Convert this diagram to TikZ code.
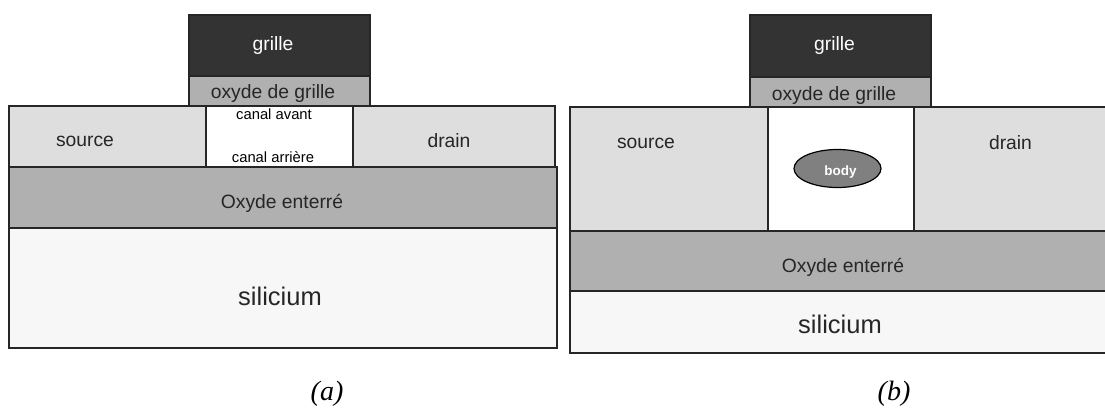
\documentclass[tikz,border=0pt]{standalone}
\usetikzlibrary{shapes.geometric}
\usepackage{fontspec}
\setmainfont{Liberation Sans}
\newfontfamily\captionfont{Liberation Serif}
\definecolor{grilleC}{gray}{0.2}
\definecolor{oxydeC}{gray}{0.69}
\definecolor{sourceC}{gray}{0.87}
\definecolor{siliciumC}{gray}{0.97}
\definecolor{bodyC}{gray}{0.5}
\definecolor{traitC}{gray}{0.15}
\tikzset{
  couche/.style={draw=traitC,line width=1.2pt,rectangle,inner sep=0pt},
  etiq/.style={inner sep=0pt,font=\fontsize{19.3}{22}\selectfont,text=black!85},
  etiqSi/.style={inner sep=0pt,font=\fontsize{25.5}{28}\selectfont,text=black!85},
  etiqCanal/.style={inner sep=0pt,font=\fontsize{14.8}{17}\selectfont},
  legende/.style={inner sep=0pt,font=\captionfont\itshape\fontsize{28}{31}\selectfont},
}
% une couche : nom, x gauche, y haut, x droit, y bas, couleur
\newcommand{\couche}[6]{%
  \node[couche,fill=#6,minimum width={#4pt-#2pt},minimum height={#5pt-#3pt}] (#1) at ({(#2+#4)/2},{(#3+#5)/2}) {};
}
\begin{document}
\begin{tikzpicture}[x=1pt,y=-1pt]
\useasboundingbox (0,0) rectangle (1105,410);
%
% (a)
\couche{siliciumA}{9}{228}{557}{348}{siliciumC}
\couche{oxydeA}{9}{167}{557}{228}{oxydeC}
\couche{sourceA}{9}{106}{206}{167}{sourceC}
\couche{canalA}{206}{106}{353}{167}{white}
\couche{drainA}{353}{106}{555}{167}{sourceC}
\couche{oxgrilleA}{189}{76}{370}{106}{oxydeC}
\couche{grilleA}{189}{15}{370}{76}{grilleC}
\node[etiq,text=white] (textGrilleA) at (273,46) {grille};
\node[etiq] (textOxgA) at (273,94) {oxyde de grille};
\node[etiq] (textSourceA) at (85,141) {source};
\node[etiq] (textDrainA) at (449,141) {drain};
\node[etiq] (textOxA) at (282,203) {Oxyde enterré};
\node[etiqSi] (textSiA) at (280,296) {silicium};
\node[etiqCanal] (avant) at (274,114) {canal avant};
\node[etiqCanal] (arriere) at (273,157) {canal arrière};
%
% (b)
\couche{siliciumB}{570}{291}{1110}{353}{siliciumC}
\couche{oxydeB}{570}{231}{1110}{291}{oxydeC}
\couche{sourceB}{570}{107}{768}{231}{sourceC}
\couche{canalB}{768}{107}{914}{231}{white}
\couche{drainB}{914}{107}{1110}{231}{sourceC}
\couche{oxgrilleB}{750}{77}{931}{107}{oxydeC}
\couche{grilleB}{750}{15}{931}{77}{grilleC}
\node[etiq,text=white] (textGrilleB) at (834.5,46) {grille};
\node[etiq] (textOxgB) at (834,96) {oxyde de grille};
\node[etiq] (textSourceB) at (646,143) {source};
\node[etiq] (textDrainB) at (1010.5,143) {drain};
\node[etiq] (textOxB) at (843,267) {Oxyde enterré};
\node[etiqSi] (textSiB) at (840,324) {silicium};
\node[draw=black,line width=1.2pt,fill=bodyC,ellipse,minimum width=87pt,minimum height=38pt,inner sep=0pt] (body) at (837.5,168.5) {};
\node[inner sep=0pt,text=white,font=\bfseries\fontsize{13.5}{15}\selectfont] (textBody) at (840.5,172) {body};
%
\node[legende] (legA) at (327,394) {(a)};
\node[legende] (legB) at (894,394) {(b)};
\end{tikzpicture}
\end{document}
